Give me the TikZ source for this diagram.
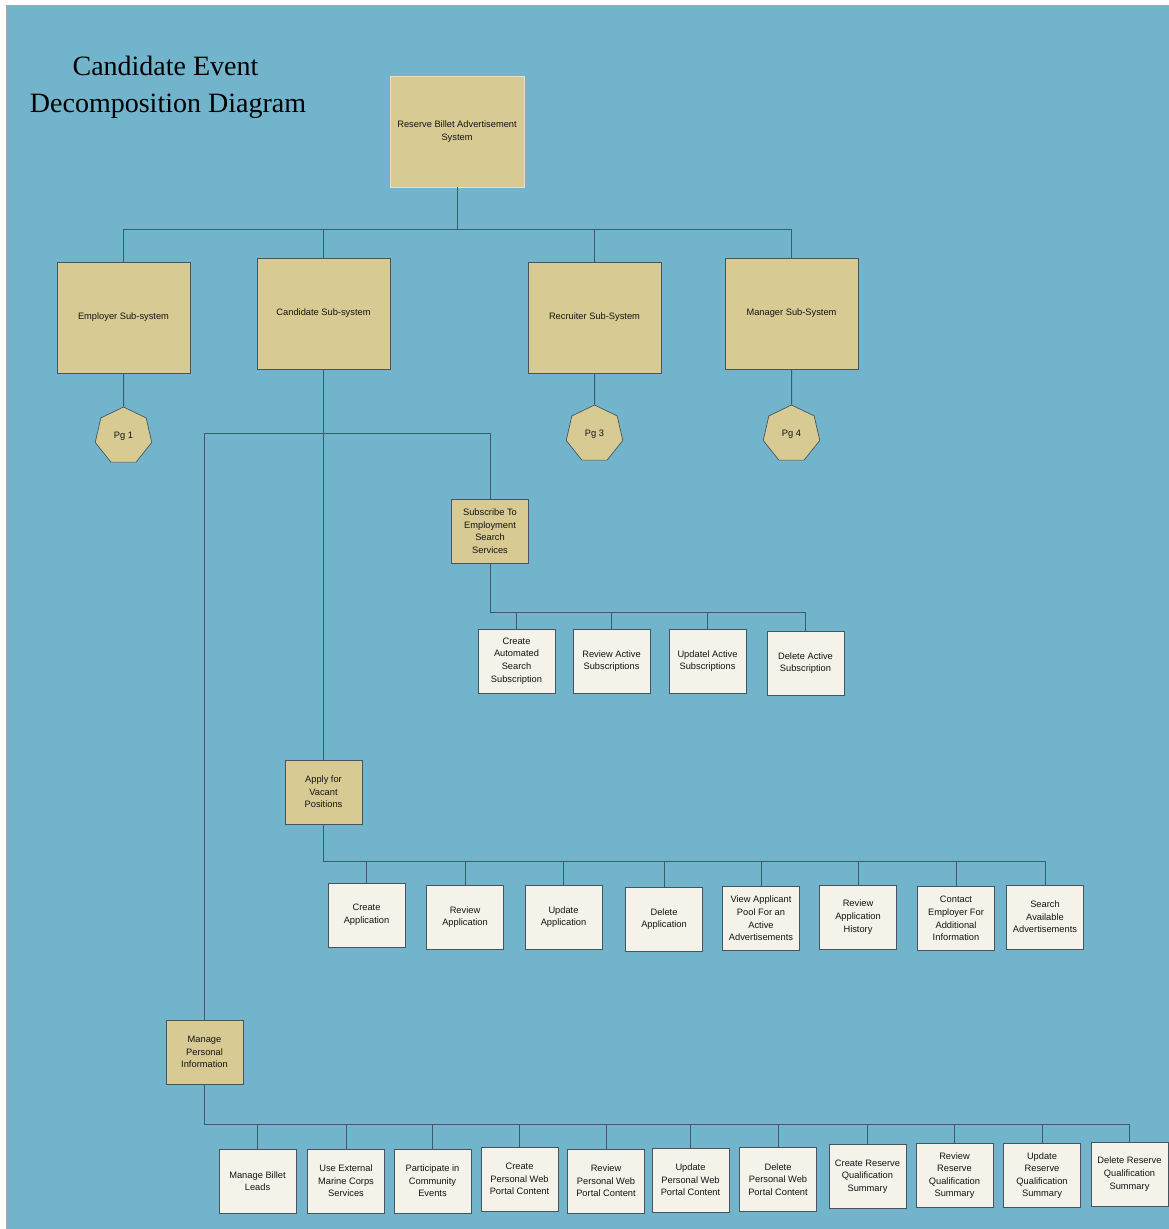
\documentclass[tikz,border=0pt]{standalone}
\usepackage{fontspec}
\setmainfont{Liberation Sans}
\newfontfamily\titlefont{Liberation Serif}
\usetikzlibrary{shapes.geometric}
\definecolor{bgblue}{HTML}{72B4CC}
\definecolor{boxtan}{HTML}{D8CA93}
\definecolor{leafc}{HTML}{F5F2E9}
\definecolor{linec}{HTML}{3A5D6C}
\definecolor{edgec}{HTML}{45555B}
\definecolor{txt}{HTML}{141414}
\begin{document}
\begin{tikzpicture}[x=1pt,y=-1pt,
 conn/.style={draw=linec,line width=1pt},
 boxbase/.style={rectangle,draw=edgec,line width=0.9pt,align=center,text=txt,font=\fontsize{9.3}{12.6}\selectfont,inner sep=2pt},
 sysbox/.style={boxbase,fill=boxtan,minimum width=133pt,minimum height=111pt},
 rootbox/.style={sysbox,draw=boxtan!60!white,minimum width=134pt},
 midbox/.style={boxbase,fill=boxtan,minimum width=77pt,minimum height=64pt},
 leafbox/.style={boxbase,fill=leafc,minimum width=77pt,minimum height=64pt},
 pgnode/.style={regular polygon,regular polygon sides=7,minimum size=58pt,inner sep=0pt,fill=boxtan,draw=edgec,line width=0.7pt,text=txt,font=\fontsize{9.3}{11}\selectfont},
 titletext/.style={font=\titlefont\fontsize{28}{34}\selectfont,text=black,anchor=base,inner sep=0pt}]
\useasboundingbox (0,0) rectangle (1169,1229);
\fill[white] (0,0) rectangle (1169,1229);
\fill[bgblue] (6,5) rectangle (1169,1229);
\draw[gray!70,line width=1pt] (6,1229) -- (6,5) -- (1169,5);

% title
\node[titletext] (t1) at (165.5,75) {Candidate Event};
\node[titletext] (t2) at (168,112) {Decomposition Diagram};

% top level
\node[rootbox] (root) at (457,131.5) {Reserve Billet Advertisement\\System};
\node[sysbox] (emp) at (123.5,317.5) {Employer Sub-system};
\node[sysbox] (cand) at (323.5,313.5) {Candidate Sub-system};
\node[sysbox] (recr) at (594.5,317.5) {Recruiter Sub-System};
\node[sysbox] (mgr) at (791.5,313.5) {Manager Sub-System};

\node[pgnode] (pg1) at (123.5,436) {Pg 1};
\node[pgnode] (pg3) at (594.5,434) {Pg 3};
\node[pgnode] (pg4) at (791.5,434) {Pg 4};

% mid level
\node[midbox] (sub) at (490,531) {Subscribe To\\Employment\\Search\\Services};
\node[midbox] (apply) at (323.5,792) {Apply for\\Vacant\\Positions};
\node[midbox] (mpi) at (204.5,1052) {Manage\\Personal\\Information};

% subscribe children
\node[leafbox] (s1) at (516.5,661) {Create\\Automated\\Search\\Subscription};
\node[leafbox] (s2) at (611.5,661) {Review Active\\Subscriptions};
\node[leafbox] (s3) at (707.5,661) {Updatel Active\\Subscriptions};
\node[leafbox] (s4) at (805.5,663) {Delete Active\\Subscription};

% apply children
\node[leafbox] (a1) at (366.5,915) {Create\\Application};
\node[leafbox] (a2) at (465,917) {Review\\Application};
\node[leafbox] (a3) at (563.5,917) {Update\\Application};
\node[leafbox] (a4) at (664,919) {Delete\\Application};
\node[leafbox] (a5) at (761,918.5) {View Applicant\\Pool For an\\Active\\Advertisements};
\node[leafbox] (a6) at (858,917) {Review\\Application\\History};
\node[leafbox] (a7) at (956,918.5) {Contact\\Employer For\\Additional\\Information};
\node[leafbox] (a8) at (1045,917) {Search\\Available\\Advertisements};

% manage personal information children
\node[leafbox] (m1) at (257.5,1181) {Manage Billet\\Leads};
\node[leafbox] (m2) at (346,1181) {Use External\\Marine Corps\\Services};
\node[leafbox] (m3) at (432.5,1181) {Participate in\\Community\\Events};
\node[leafbox] (m4) at (519.5,1179) {Create\\Personal Web\\Portal Content};
\node[leafbox] (m5) at (606,1181) {Review\\Personal Web\\Portal Content};
\node[leafbox] (m6) at (690.5,1180) {Update\\Personal Web\\Portal Content};
\node[leafbox] (m7) at (778,1179.5) {Delete\\Personal Web\\Portal Content};
\node[leafbox] (m8) at (867.5,1176.5) {Create Reserve\\Qualification\\Summary};
\node[leafbox] (m9) at (954.5,1175.5) {Review\\Reserve\\Qualification\\Summary};
\node[leafbox] (m10) at (1042,1175.5) {Update\\Reserve\\Qualification\\Summary};
\node[leafbox] (m11) at (1129.5,1174) {Delete Reserve\\Qualification\\Summary};

% bus coordinates
\coordinate (b0) at (457,229.5);
\coordinate (j1) at (323.5,433.5);
\coordinate (b1) at (490,612.5);
\coordinate (b2) at (323.5,861.5);
\coordinate (b3) at (204.5,1124.5);

% connectors
\draw[conn] (root.south) -- (b0);
\foreach \n in {emp,cand,recr,mgr} \draw[conn] (\n.north) |- (b0);
\draw[conn] (emp.south) -- (pg1.north);
\draw[conn] (recr.south) -- (pg3.north);
\draw[conn] (mgr.south) -- (pg4.north);
\draw[conn] (cand.south) -- (apply.north);
\draw[conn] (sub.north) |- (j1);
\draw[conn] (mpi.north) |- (j1);
\draw[conn] (sub.south) -- (b1);
\foreach \n in {s1,s2,s3,s4} \draw[conn] (\n.north) |- (b1);
\draw[conn] (apply.south) -- (b2);
\foreach \n in {a1,a2,a3,a4,a5,a6,a7,a8} \draw[conn] (\n.north) |- (b2);
\draw[conn] (mpi.south) -- (b3);
\foreach \n in {m1,m2,m3,m4,m5,m6,m7,m8,m9,m10,m11} \draw[conn] (\n.north) |- (b3);
\end{tikzpicture}
\end{document}
